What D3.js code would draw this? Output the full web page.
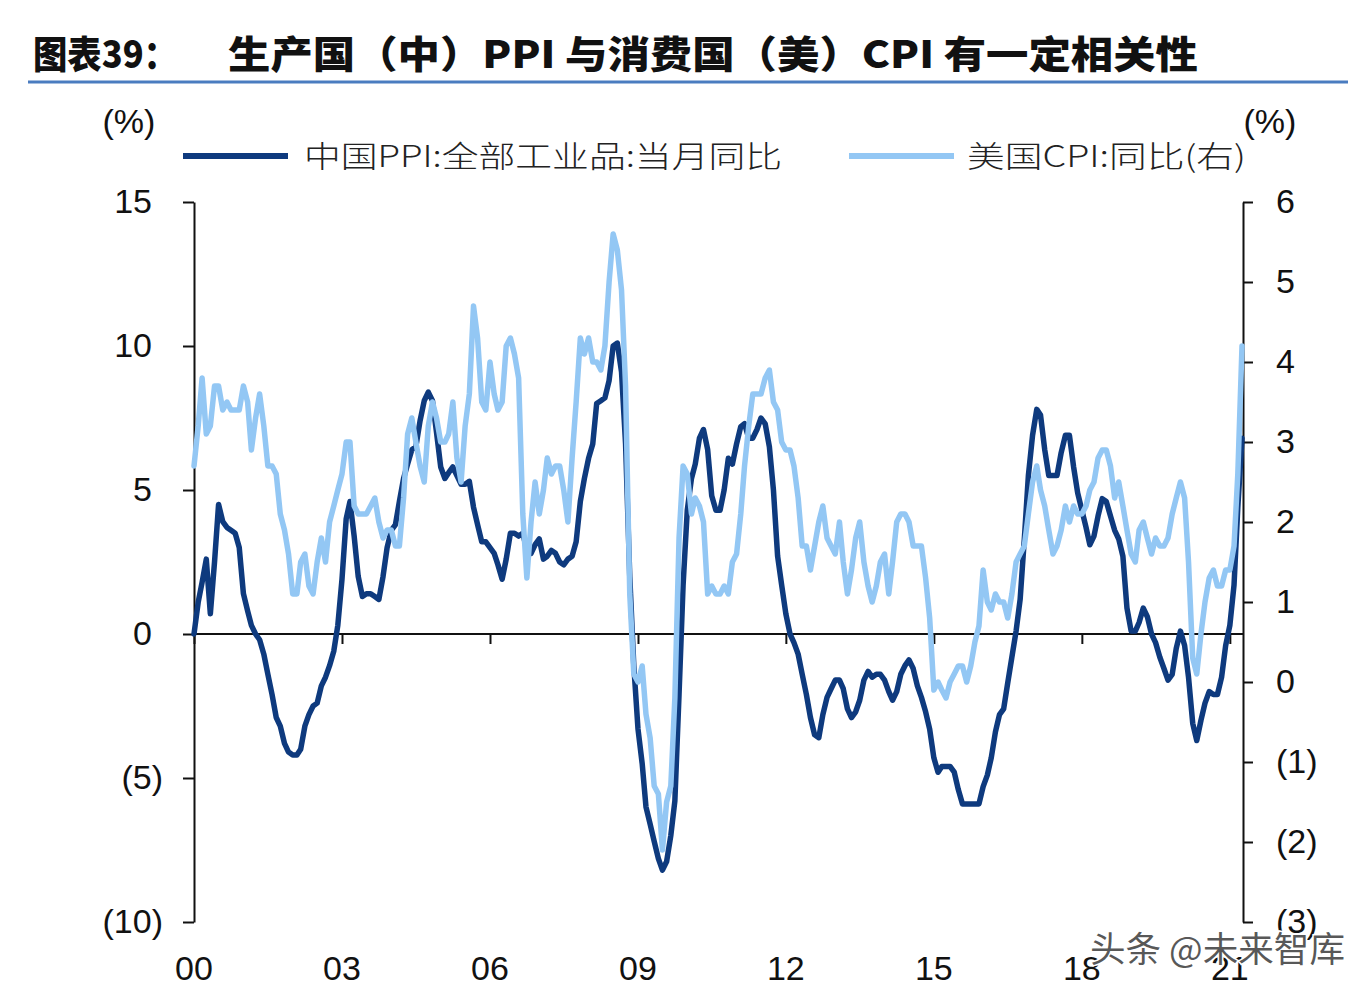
<!DOCTYPE html>
<html>
<head>
<meta charset="utf-8">
<script src="https://cdn.jsdelivr.net/npm/d3@7/dist/d3.min.js"></script>
<style>
  html, body { margin: 0; padding: 0; background: #ffffff; }
  svg { display: block; }
</style>
</head>
<body>
<script>
// ---------------- DATA ----------------
// Monthly, Jan 2000 – Apr 2021
const startDate = new Date(2000, 0, 1);

// 中国PPI:全部工业品:当月同比 (left axis, %)
const ppiValues = [
  0.0, 1.1, 1.8, 2.6, 0.7, 2.5, 4.5, 3.9, 3.7, 3.6, 3.5, 3.0,          // 2000
  1.4, 0.8, 0.3, 0.0, -0.2, -0.7, -1.4, -2.1, -2.9, -3.2, -3.8, -4.1,  // 2001
  -4.2, -4.2, -4.0, -3.2, -2.8, -2.5, -2.4, -1.8, -1.5, -1.1, -0.6, 0.3, // 2002
  1.9, 4.0, 4.6, 3.4, 2.0, 1.3, 1.4, 1.4, 1.3, 1.2, 2.0, 3.0,          // 2003
  3.6, 3.8, 4.6, 5.4, 5.9, 6.4, 6.5, 7.4, 8.1, 8.4, 8.1, 7.0,          // 2004
  5.8, 5.4, 5.6, 5.8, 5.5, 5.2, 5.2, 5.3, 4.4, 3.8, 3.2, 3.2,          // 2005
  3.0, 2.8, 2.4, 1.9, 2.6, 3.5, 3.5, 3.4, 3.5, 2.9, 2.8, 3.1,          // 2006
  3.3, 2.6, 2.7, 2.9, 2.8, 2.5, 2.4, 2.6, 2.7, 3.2, 4.6, 5.4,          // 2007
  6.1, 6.6, 8.0, 8.1, 8.2, 8.8, 10.0, 10.1, 9.1, 6.6, 2.0, -1.1,       // 2008
  -3.3, -4.5, -6.0, -6.6, -7.2, -7.8, -8.2, -7.9, -7.0, -5.8, -2.1, 1.7, // 2009
  4.3, 5.4, 5.9, 6.8, 7.1, 6.4, 4.8, 4.3, 4.3, 5.0, 6.1, 5.9,          // 2010
  6.6, 7.2, 7.3, 6.8, 6.8, 7.1, 7.5, 7.3, 6.5, 5.0, 2.7, 1.7,          // 2011
  0.7, 0.0, -0.3, -0.7, -1.4, -2.1, -2.9, -3.5, -3.6, -2.8, -2.2, -1.9, // 2012
  -1.6, -1.6, -1.9, -2.6, -2.9, -2.7, -2.3, -1.6, -1.3, -1.5, -1.4, -1.4, // 2013
  -1.6, -2.0, -2.3, -2.0, -1.4, -1.1, -0.9, -1.2, -1.8, -2.2, -2.7, -3.3, // 2014
  -4.3, -4.8, -4.6, -4.6, -4.6, -4.8, -5.4, -5.9, -5.9, -5.9, -5.9, -5.9, // 2015
  -5.3, -4.9, -4.3, -3.4, -2.8, -2.6, -1.7, -0.8, 0.1, 1.2, 3.3, 5.5,  // 2016
  6.9, 7.8, 7.6, 6.4, 5.5, 5.5, 5.5, 6.3, 6.9, 6.9, 5.8, 4.9,          // 2017
  4.3, 3.7, 3.1, 3.4, 4.1, 4.7, 4.6, 4.1, 3.6, 3.3, 2.7, 0.9,          // 2018
  0.1, 0.1, 0.4, 0.9, 0.6, 0.0, -0.3, -0.8, -1.2, -1.6, -1.4, -0.5,    // 2019
  0.1, -0.4, -1.5, -3.1, -3.7, -3.0, -2.4, -2.0, -2.1, -2.1, -1.5, -0.4, // 2020
  0.3, 1.7, 4.4, 6.8                                                   // 2021
];

// 美国CPI:同比 (right axis, %)
const cpiValues = [
  2.7, 3.2, 3.8, 3.1, 3.2, 3.7, 3.7, 3.4, 3.5, 3.4, 3.4, 3.4,   // 2000
  3.7, 3.5, 2.9, 3.3, 3.6, 3.2, 2.7, 2.7, 2.6, 2.1, 1.9, 1.6,   // 2001
  1.1, 1.1, 1.5, 1.6, 1.2, 1.1, 1.5, 1.8, 1.5, 2.0, 2.2, 2.4,   // 2002
  2.6, 3.0, 3.0, 2.2, 2.1, 2.1, 2.1, 2.2, 2.3, 2.0, 1.8, 1.9,   // 2003
  1.9, 1.7, 1.7, 2.3, 3.1, 3.3, 3.0, 2.7, 2.5, 3.2, 3.5, 3.3,   // 2004
  3.0, 3.0, 3.1, 3.5, 2.8, 2.5, 3.2, 3.6, 4.7, 4.3, 3.5, 3.4,   // 2005
  4.0, 3.6, 3.4, 3.5, 4.2, 4.3, 4.1, 3.8, 2.1, 1.3, 2.0, 2.5,   // 2006
  2.1, 2.4, 2.8, 2.6, 2.7, 2.7, 2.4, 2.0, 2.8, 3.5, 4.3, 4.1,   // 2007
  4.3, 4.0, 4.0, 3.9, 4.2, 5.0, 5.6, 5.4, 4.9, 3.7, 1.1, 0.1,   // 2008
  0.0, 0.2, -0.4, -0.7, -1.3, -1.4, -2.1, -1.5, -1.3, -0.2, 1.8, 2.7, // 2009
  2.6, 2.1, 2.3, 2.2, 2.0, 1.1, 1.2, 1.1, 1.1, 1.2, 1.1, 1.5,   // 2010
  1.6, 2.1, 2.7, 3.2, 3.6, 3.6, 3.6, 3.8, 3.9, 3.5, 3.4, 3.0,   // 2011
  2.9, 2.9, 2.7, 2.3, 1.7, 1.7, 1.4, 1.7, 2.0, 2.2, 1.8, 1.7,   // 2012
  1.6, 2.0, 1.5, 1.1, 1.4, 1.8, 2.0, 1.5, 1.2, 1.0, 1.2, 1.5,   // 2013
  1.6, 1.1, 1.5, 2.0, 2.1, 2.1, 2.0, 1.7, 1.7, 1.7, 1.3, 0.8,   // 2014
  -0.1, 0.0, -0.1, -0.2, 0.0, 0.1, 0.2, 0.2, 0.0, 0.2, 0.5, 0.7, // 2015
  1.4, 1.0, 0.9, 1.1, 1.0, 1.0, 0.8, 1.1, 1.5, 1.6, 1.7, 2.1,   // 2016
  2.5, 2.7, 2.4, 2.2, 1.9, 1.6, 1.7, 1.9, 2.2, 2.0, 2.2, 2.1,   // 2017
  2.1, 2.2, 2.4, 2.5, 2.8, 2.9, 2.9, 2.7, 2.3, 2.5, 2.2, 1.9,   // 2018
  1.6, 1.5, 1.9, 2.0, 1.8, 1.6, 1.8, 1.7, 1.7, 1.8, 2.1, 2.3,   // 2019
  2.5, 2.3, 1.5, 0.3, 0.1, 0.6, 1.0, 1.3, 1.4, 1.2, 1.2, 1.4,   // 2020
  1.4, 1.7, 2.6, 4.2                                            // 2021
];

const leftTicks = [-10, -5, 0, 5, 10, 15];
const rightTicks = [-3, -2, -1, 0, 1, 2, 3, 4, 5, 6];
const xTickYears = [2000, 2003, 2006, 2009, 2012, 2015, 2018, 2021];
const xTickLabels = ["00", "03", "06", "09", "12", "15", "18", "21"];

const seriesNames = ["中国PPI:全部工业品:当月同比", "美国CPI:同比(右)"];
const titleLead = "图表39：";
const titleMain = "生产国（中）PPI 与消费国（美）CPI 有一定相关性";
const watermark = "头条 @未来智库";

// ---------------- STYLE ----------------
const W = 1372, H = 998;
const darkBlue = "#0e3a7e";
const lightBlue = "#93c7f4";
const latin = "'Liberation Sans', Arial, 'Noto Sans', sans-serif";
const cjk = "'Noto Sans CJK SC', 'Noto Sans', sans-serif";

const months = d3.range(ppiValues.length).map(i => new Date(2000, i, 1));
const endDate = months[months.length - 1];

const svg = d3.select("body").append("svg")
  .attr("width", W).attr("height", H)
  .style("background", "#ffffff");

// scales
const x = d3.scaleTime().domain([startDate, endDate]).range([194, 1242]);
const yL = d3.scaleLinear().domain([-10, 15]).range([922, 202]);
const yR = d3.scaleLinear().domain([-3, 6]).range([922, 202]);

// ---------------- TITLE ----------------
svg.append("text")
  .attr("x", 33).attr("y", 68)
  .attr("font-family", cjk).attr("font-weight", 900)
  .attr("font-size", 38).attr("fill", "#111")
  .attr("textLength", 145).attr("lengthAdjust", "spacingAndGlyphs")
  .text(titleLead);
svg.append("text")
  .attr("x", 228).attr("y", 68)
  .attr("font-family", cjk).attr("font-weight", 900)
  .attr("font-size", 38).attr("fill", "#111")
  .attr("textLength", 970).attr("lengthAdjust", "spacingAndGlyphs")
  .text(titleMain);
svg.append("line")
  .attr("x1", 28).attr("x2", 1348).attr("y1", 82).attr("y2", 82)
  .attr("stroke", "#4a7cc0").attr("stroke-width", 3);

// ---------------- UNITS ----------------
svg.append("text").attr("x", 129).attr("y", 133).attr("text-anchor", "middle")
  .attr("font-family", latin).attr("font-size", 34).attr("fill", "#111").text("(%)");
svg.append("text").attr("x", 1270).attr("y", 133).attr("text-anchor", "middle")
  .attr("font-family", latin).attr("font-size", 34).attr("fill", "#111").text("(%)");

// ---------------- LEGEND ----------------
const legend = [
  { name: seriesNames[0], color: darkBlue, x1: 183, x2: 288, tx: 304, tl: 478 },
  { name: seriesNames[1], color: lightBlue, x1: 849, x2: 954, tx: 967, tl: 279 }
];
legend.forEach(d => {
  svg.append("line").attr("x1", d.x1).attr("x2", d.x2).attr("y1", 156).attr("y2", 156)
    .attr("stroke", d.color).attr("stroke-width", 6);
  svg.append("text").attr("x", d.tx).attr("y", 167)
    .attr("font-family", cjk).attr("font-weight", 300).attr("font-size", 30).attr("fill", "#222")
    .attr("textLength", d.tl).attr("lengthAdjust", "spacingAndGlyphs")
    .text(d.name);
});

// ---------------- AXES ----------------
const fmtAcc = v => v < 0 ? "(" + Math.abs(v) + ")" : String(v);

const gL = svg.append("g").attr("transform", "translate(194,0)")
  .call(d3.axisLeft(yL).tickValues(leftTicks).tickSize(11).tickSizeOuter(0).tickFormat(fmtAcc));
gL.selectAll("text")
  .attr("x", d => d < 0 ? -31 : -42)
  .attr("font-family", latin).attr("font-size", 34).attr("fill", "#111");

const gR = svg.append("g").attr("transform", "translate(1243,0)")
  .call(d3.axisRight(yR).tickValues(rightTicks).tickSize(10).tickSizeOuter(0).tickFormat(fmtAcc));
gR.selectAll("text")
  .attr("x", 33)
  .attr("font-family", latin).attr("font-size", 34).attr("fill", "#111");

[gL, gR].forEach(g => {
  g.select(".domain").attr("stroke", "#111").attr("stroke-width", 2);
  g.selectAll(".tick line").attr("stroke", "#111").attr("stroke-width", 2);
});

// x axis at zero line
const xTickDates = xTickYears.map(yv => new Date(yv, 0, 1));
const gX = svg.append("g").attr("transform", `translate(0,${yL(0)})`)
  .call(d3.axisBottom(x).tickValues(xTickDates).tickSize(10).tickSizeOuter(0).tickFormat(""));
gX.select(".domain").attr("stroke", "#111").attr("stroke-width", 2)
  .attr("d", `M194,0H1243`);
gX.selectAll(".tick line").attr("stroke", "#111").attr("stroke-width", 2);

svg.append("g").selectAll("text").data(xTickDates).join("text")
  .attr("x", d => x(d)).attr("y", 980)
  .attr("text-anchor", "middle")
  .attr("font-family", latin).attr("font-size", 34).attr("fill", "#111")
  .text((d, i) => xTickLabels[i]);

// ---------------- LINES ----------------
const linePPI = d3.line().x((d, i) => x(months[i])).y(d => yL(d));
const lineCPI = d3.line().x((d, i) => x(months[i])).y(d => yR(d));

svg.append("path").datum(ppiValues)
  .attr("d", linePPI).attr("fill", "none")
  .attr("stroke", darkBlue).attr("stroke-width", 5.5)
  .attr("stroke-linejoin", "round").attr("stroke-linecap", "round");

svg.append("path").datum(cpiValues)
  .attr("d", lineCPI).attr("fill", "none")
  .attr("stroke", lightBlue).attr("stroke-width", 5.5)
  .attr("stroke-linejoin", "round").attr("stroke-linecap", "round");

// ---------------- WATERMARK ----------------
svg.append("text")
  .attr("x", 1090).attr("y", 962)
  .attr("font-family", cjk).attr("font-size", 35)
  .attr("textLength", 255).attr("lengthAdjust", "spacingAndGlyphs")
  .attr("fill", "#3a3a3a").attr("fill-opacity", 0.85)
  .attr("stroke", "#ffffff").attr("stroke-width", 3).attr("paint-order", "stroke")
  .text(watermark);
</script>
</body>
</html>
